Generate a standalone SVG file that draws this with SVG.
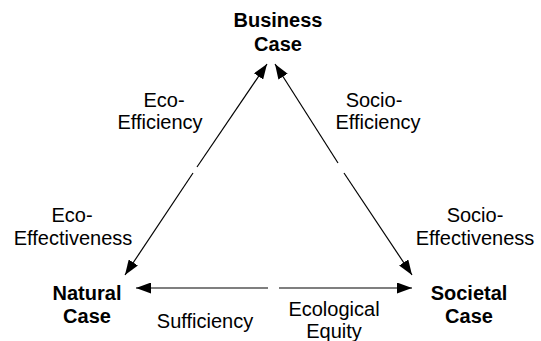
<svg xmlns="http://www.w3.org/2000/svg" width="541" height="341" viewBox="0 0 541 341">
<style>
.b{font-family:"Liberation Sans",Arial,sans-serif;font-weight:bold;font-size:20px;fill:#000;text-anchor:middle}
.r{font-family:"Liberation Sans",Arial,sans-serif;font-size:20px;fill:#000;text-anchor:middle}
.ln{stroke:#000;stroke-width:1.2;fill:none;marker-end:url(#ah)}
</style>
<defs>
<marker id="ah" viewBox="0 0 15 11" refX="15" refY="5.5" markerWidth="15" markerHeight="11" markerUnits="userSpaceOnUse" orient="auto">
<path d="M0,0 L15,5.5 L0,11 Z" fill="#000"/>
</marker>
</defs>
<rect width="541" height="341" fill="#fff"/>
<g id="connectors">
<line class="ln" x1="197" y1="167" x2="267" y2="64"/>
<line class="ln" x1="193" y1="173" x2="125" y2="275"/>
<line class="ln" x1="338" y1="163" x2="275" y2="64"/>
<line class="ln" x1="344" y1="173" x2="412" y2="275"/>
<line class="ln" x1="268" y1="288" x2="136" y2="288"/>
<line class="ln" x1="279" y1="288" x2="412" y2="288"/>
</g>
<g id="business"><text class="b" x="278" y="27">Business</text><text class="b" x="278" y="51">Case</text></g>
<g id="natural"><text class="b" x="87" y="300">Natural</text><text class="b" x="87" y="323">Case</text></g>
<g id="societal"><text class="b" x="469" y="300">Societal</text><text class="b" x="469" y="323">Case</text></g>
<g id="labels">
<text class="r" x="164" y="107">Eco-</text><text class="r" x="160" y="129">Efficiency</text>
<text class="r" x="374" y="107">Socio-</text><text class="r" x="378" y="129">Efficiency</text>
<text class="r" x="72" y="222">Eco-</text><text class="r" x="73" y="245">Effectiveness</text>
<text class="r" x="475" y="222">Socio-</text><text class="r" x="475" y="245">Effectiveness</text>
<text class="r" x="205" y="328">Sufficiency</text>
<text class="r" x="334" y="316">Ecological</text><text class="r" x="334" y="338">Equity</text>
</g>
</svg>
